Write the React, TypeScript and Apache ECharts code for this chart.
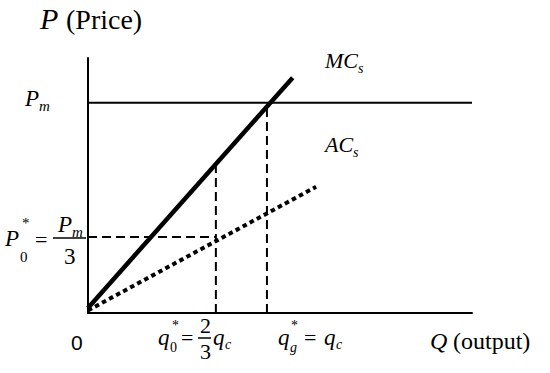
import React, { useEffect, useRef } from "react";
import * as echarts from "echarts";

// Axis domain (abstract units)
const xRange = [0, 10];
const yRange = [0, 10];
// Levels
const pmLevel = 8.25;
const p0Level = 2.98;
const q0Value = 3.33;
const qcValue = 4.66;
const q0TopValue = 5.85;
// Curves (two end points each)
const pmX = [0, 10];
const mcX = [0, 5.33];
const mcY = [0.2, 9.23];
const acX = [0, 5.94];
const acY = [0.1, 4.95];

const SERIF = "'Liberation Serif', 'Times New Roman', Times, serif";
const SANS = "'Liberation Sans', Arial, sans-serif";

function t(text: string, x: number, baseline: number, size: number, italic = false, family = SERIF) {
  return {
    type: "text",
    x,
    y: baseline - 0.34 * size,
    silent: true,
    style: {
      text,
      fontFamily: family,
      fontSize: size,
      fontStyle: italic ? "italic" : "normal",
      fill: "#000",
      align: "left",
      verticalAlign: "middle",
    },
  };
}
function bar(x1: number, x2: number, y: number) {
  return { type: "line", silent: true, shape: { x1, y1: y, x2, y2: y }, style: { stroke: "#000", lineWidth: 1.5 } };
}

export default function App() {
  const ref = useRef<HTMLDivElement>(null);
  useEffect(() => {
    if (!ref.current) return;
    const chart = echarts.init(ref.current, undefined, { renderer: "svg" });
    const lineSeries = (data: number[][], width: number, type: any) => ({
      type: "line",
      data,
      symbol: "none",
      silent: true,
      lineStyle: { color: "#000", width, type, cap: "butt" },
      z: 3,
    });
    chart.setOption({
      animation: false,
      backgroundColor: "#fff",
      textStyle: { fontFamily: SERIF },
      grid: { left: 88, right: 78, top: 58, bottom: 60 },
      xAxis: {
        type: "value",
        min: xRange[0],
        max: xRange[1],
        axisLine: { show: true, onZero: false, lineStyle: { color: "#000", width: 2 } },
        axisTick: { show: false },
        axisLabel: { show: false },
        splitLine: { show: false },
      },
      yAxis: {
        type: "value",
        min: yRange[0],
        max: yRange[1],
        axisLine: { show: true, onZero: false, lineStyle: { color: "#000", width: 2 } },
        axisTick: { show: false },
        axisLabel: { show: false },
        splitLine: { show: false },
      },
      series: [
        lineSeries([[pmX[0], pmLevel], [pmX[1], pmLevel]], 2, "solid"),
        lineSeries([[mcX[0], mcY[0]], [mcX[1], mcY[1]]], 4.5, "solid"),
        lineSeries([[acX[0], acY[0]], [acX[1], acY[1]]], 4, [4.5, 3.5]),
        lineSeries([[0, p0Level], [q0Value, p0Level]], 2, [9, 5]),
        lineSeries([[q0Value, 0], [q0Value, q0TopValue]], 2, [9, 5]),
        lineSeries([[qcValue, 0], [qcValue, pmLevel]], 2, [9, 5]),
      ],
      graphic: [
        // Title
        t("P", 40, 29, 30, true),
        t("(Price)", 66, 29, 28),
        // Pm
        t("P", 25, 106, 23, true),
        t("m", 39, 111, 15, true),
        // P0* = Pm / 3
        t("P", 5, 246, 23, true),
        t("0", 20, 262, 15),
        t("*", 22, 228, 15),
        t("=", 35, 247, 22),
        t("P", 58, 232, 23, true),
        t("m", 72, 237, 15, true),
        bar(53, 86, 238),
        t("3", 64, 264, 23),
        // 0 origin
        t("0", 71, 350, 21, false, SANS),
        // q0* = 2/3 qc
        t("q", 158, 345, 23, true),
        t("0", 170, 352, 14),
        t("*", 172, 330, 14),
        t("=", 181, 345, 22),
        t("2", 200, 333, 22),
        bar(198, 211, 338),
        t("3", 200, 359, 22),
        t("q", 213, 345, 23, true),
        t("c", 225, 349, 14, true),
        // qg* = qc
        t("q", 278, 345, 23, true),
        t("g", 290, 352, 14, true),
        t("*", 291, 330, 14),
        t("=", 304, 345, 22),
        t("q", 324, 345, 23, true),
        t("c", 336, 349, 14, true),
        // Q (output)
        t("Q", 430, 349, 24, true),
        t("(output)", 453, 349, 24),
        // Curve labels
        t("MC", 325, 68, 22, true),
        t("s", 358, 73, 14, true),
        t("AC", 325, 152, 22, true),
        t("s", 353, 157, 14, true),
      ],
    });
    return () => chart.dispose();
  }, []);
  return (
    <div
      ref={ref}
      style={{ position: "fixed", left: 0, top: 0, width: 550, height: 373, background: "#fff" }}
    />
  );
}
